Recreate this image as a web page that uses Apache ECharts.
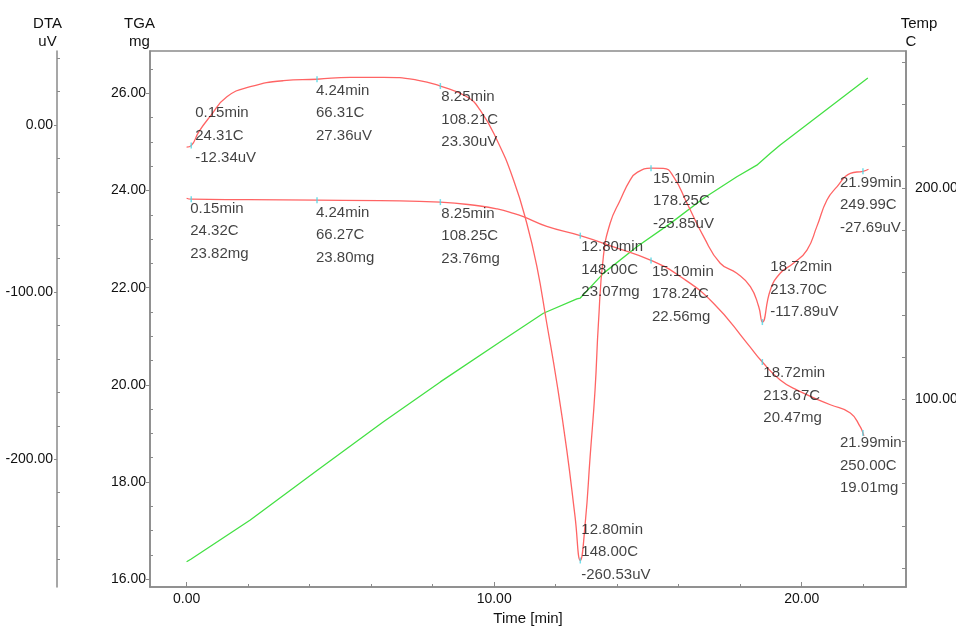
<!DOCTYPE html>
<html>
<head>
<meta charset="utf-8">
<script src="https://cdn.jsdelivr.net/npm/echarts@6/dist/echarts.min.js"></script>
<style>
  html, body { margin: 0; padding: 0; background: #ffffff; }
  #chart { width: 956px; height: 626px; }
</style>
</head>
<body>
<div id="chart"></div>
<script>
// ---------- data ----------
// DTA curve (time min, uV)
const dtaTime = [0.00, 0.15, 0.40, 0.76, 1.31, 2.07, 3.15, 4.24, 5.32, 6.40, 7.49, 8.25, 9.11, 9.54, 10.09, 10.63, 11.06, 11.39, 11.71, 12.04, 12.36, 12.63, 12.80, 12.96, 13.12, 13.28, 13.39, 13.55, 13.77, 14.10, 14.42, 14.64, 15.10, 15.50, 15.83, 16.27, 16.81, 17.35, 17.89, 18.33, 18.60, 18.72, 18.98, 19.30, 19.73, 20.17, 20.49, 20.82, 21.15, 21.58, 21.99, 22.17];
const dtaValue = [-13.2, -12.34, -4.0, 5.0, 16.9, 22.9, 26.5, 27.36, 28.5, 28.5, 26.9, 23.30, 16.9, 9.0, -9.0, -32.9, -58.8, -84.8, -118.6, -154.5, -194.4, -234.3, -260.53, -238.3, -198.4, -158.5, -118.6, -78.8, -58.8, -44.9, -33.0, -28.5, -25.85, -25.9, -30.9, -46.8, -66.8, -82.7, -88.7, -96.7, -108.6, -117.89, -98.7, -88.7, -82.7, -74.8, -60.8, -44.9, -36.9, -28.9, -27.69, -26.5];

// TGA curve (time min, mg)
const tgaTime = [0.00, 0.15, 2.00, 4.24, 6.30, 8.25, 9.54, 10.10, 10.63, 10.95, 11.71, 12.80, 13.88, 15.10, 16.05, 17.13, 18.22, 18.72, 19.30, 19.85, 20.93, 21.58, 21.90, 21.99, 22.02];
const tgaValue = [23.84, 23.82, 23.81, 23.80, 23.79, 23.76, 23.68, 23.62, 23.53, 23.46, 23.26, 23.07, 22.84, 22.56, 22.23, 21.68, 20.86, 20.47, 20.10, 19.89, 19.59, 19.42, 19.14, 19.01, 18.95];

// Temperature curve (time min, C)
const tempTime = [0.00, 0.15, 2.07, 4.24, 6.40, 8.25, 10.20, 11.60, 12.69, 12.80, 13.55, 14.64, 15.73, 16.81, 17.89, 18.54, 18.98, 19.30, 22.15];
const tempValue = [23.0, 24.32, 42.8, 66.27, 89.4, 108.25, 127.3, 140.8, 147.6, 148.0, 159.7, 172.3, 183.4, 195.3, 205.5, 211.0, 216.6, 220.5, 252.3];

// Annotated points
const markTime = [0.15, 4.24, 8.25, 12.80, 15.10, 18.72, 21.99];
const dtaMarkTemp = [24.31, 66.31, 108.21, 148.00, 178.25, 213.70, 249.99];
const dtaMarkValue = [-12.34, 27.36, 23.30, -260.53, -25.85, -117.89, -27.69];
const tgaMarkTemp = [24.32, 66.27, 108.25, 148.00, 178.24, 213.67, 250.00];
const tgaMarkValue = [23.82, 23.80, 23.76, 23.07, 22.56, 20.47, 19.01];

// Tick values
const timeLabels = [0, 10, 20];
const timeMinor = [2, 4, 6, 8, 12, 14, 16, 18, 22];
const tgaLabels = [16, 18, 20, 22, 24, 26];
const tgaMinor = [16.5, 17, 17.5, 18.5, 19, 19.5, 20.5, 21, 21.5, 22.5, 23, 23.5, 24.5, 25, 25.5, 26.5];
const dtaLabels = [-200, -100, 0];
const dtaMinor = [-260, -240, -220, -180, -160, -140, -120, -80, -60, -40, -20, 20, 40];
const tempLabels = [100, 200];
const tempTicks = [20, 40, 60, 80, 100, 120, 140, 160, 180, 200, 220, 240, 260];

// ---------- layout / style config (not data) ----------
const dtaLabelOffsets = [[4, -44], [-1, 0], [1, 0], [1, -42], [2, -1], [8, -66], [-23, 0]];
const tgaLabelOffsets = [[-1, -2], [-1, 1], [1, 0], [1, 0], [1, 0], [1, 0], [-23, -1]];

const FONT = '"Liberation Sans", Arial, sans-serif';
const AXIS_COLOR = '#8a8a8a';
const TEXT_COLOR = '#111111';
const RED = '#ff6464';
const GREEN = '#44e044';
const CYAN = '#4fd6e4';

const zip = (a, b) => a.map((v, i) => [v, b[i]]);
const fmt2 = v => Number(v).toFixed(2);

function markData(values, temps, offsets) {
  return markTime.map((t, i) => ({
    value: [t, values[i], temps[i]],
    label: { offset: offsets[i] }
  }));
}

function markSeries(name, yIdx, values, temps, offsets, unit) {
  return {
    name: name,
    type: 'scatter',
    xAxisIndex: 0,
    yAxisIndex: yIdx,
    symbol: 'rect',
    symbolSize: [1.5, 6],
    itemStyle: { color: CYAN },
    z: 5,
    silent: true,
    data: markData(values, temps, offsets),
    label: {
      show: true,
      position: 'inside',
      align: 'left',
      verticalAlign: 'top',
      fontSize: 15,
      lineHeight: 22.5,
      fontFamily: FONT,
      color: TEXT_COLOR,
      textBorderWidth: 0,
      formatter: p => fmt2(p.value[0]) + 'min\n' + fmt2(p.value[2]) + 'C\n' + fmt2(p.value[1]) + unit
    }
  };
}

const X_MIN = -1.19, X_MAX = 23.39;
const TGA_MIN = 15.84, TGA_MAX = 26.87;
const DTA_MIN = -276.4, DTA_MAX = 44.27;
const TEMP_MIN = 11.04, TEMP_MAX = 265.1;

const labelStyle = { fontSize: 14, fontFamily: FONT, color: TEXT_COLOR, formatter: v => fmt2(v) };
const lineStyle = { color: AXIS_COLOR, width: 1.5 };
const tickStyle = { color: AXIS_COLOR, width: 1 };
const nameStyle = { fontSize: 15, fontFamily: FONT, color: TEXT_COLOR, lineHeight: 18 };

const option = {
  animation: false,
  backgroundColor: '#ffffff',
  grid: {
    left: 150, right: 50, top: 51, bottom: 39,
    show: true, borderColor: AXIS_COLOR, borderWidth: 1.5, backgroundColor: 'transparent',
    containLabel: false,
    outerBoundsMode: 'none'
  },
  xAxis: [
    {
      type: 'value', position: 'bottom', min: X_MIN, max: X_MAX,
      axisLine: { show: true, onZero: false, lineStyle: lineStyle },
      axisTick: { show: true, inside: true, length: 5, customValues: timeLabels, lineStyle: tickStyle },
      axisLabel: Object.assign({ customValues: timeLabels, margin: 5 }, labelStyle),
      splitLine: { show: false },
      name: 'Time [min]', nameLocation: 'middle', nameGap: 22,
      nameTextStyle: { fontSize: 15, fontFamily: FONT, color: TEXT_COLOR }
    },
    {
      type: 'value', position: 'bottom', min: X_MIN, max: X_MAX,
      axisLine: { show: false, onZero: false },
      axisTick: { show: true, inside: true, length: 3, customValues: timeMinor, lineStyle: tickStyle },
      axisLabel: { show: false },
      splitLine: { show: false }
    }
  ],
  yAxis: [
    { // TGA
      type: 'value', position: 'left', offset: 0, min: TGA_MIN, max: TGA_MAX,
      axisLine: { show: true, onZero: false, lineStyle: lineStyle },
      axisTick: { show: true, inside: false, length: 4, customValues: tgaLabels, lineStyle: tickStyle },
      axisLabel: Object.assign({ customValues: tgaLabels, margin: 4 }, labelStyle),
      splitLine: { show: false },
      name: 'TGA\nmg', nameLocation: 'end', nameGap: 0,
      nameTextStyle: Object.assign({ align: 'center', padding: [0, 21, 0, 0] }, nameStyle)
    },
    { // TGA minor ticks
      type: 'value', position: 'left', offset: 0, min: TGA_MIN, max: TGA_MAX,
      axisLine: { show: false, onZero: false },
      axisTick: { show: true, inside: true, length: 3, customValues: tgaMinor, lineStyle: tickStyle },
      axisLabel: { show: false },
      splitLine: { show: false }
    },
    { // DTA
      type: 'value', position: 'left', offset: 93, min: DTA_MIN, max: DTA_MAX,
      axisLine: { show: true, onZero: false, lineStyle: lineStyle },
      axisTick: { show: true, inside: false, length: 3, customValues: dtaLabels, lineStyle: tickStyle },
      axisLabel: Object.assign({ customValues: dtaLabels, margin: 4 }, labelStyle),
      splitLine: { show: false },
      name: 'DTA\nuV', nameLocation: 'end', nameGap: 0,
      nameTextStyle: Object.assign({ align: 'center', padding: [0, 19, 0, 0] }, nameStyle)
    },
    { // DTA minor ticks
      type: 'value', position: 'left', offset: 93, min: DTA_MIN, max: DTA_MAX,
      axisLine: { show: false, onZero: false },
      axisTick: { show: true, inside: true, length: 3, customValues: dtaMinor, lineStyle: tickStyle },
      axisLabel: { show: false },
      splitLine: { show: false }
    },
    { // Temp
      type: 'value', position: 'right', offset: 0, min: TEMP_MIN, max: TEMP_MAX,
      axisLine: { show: true, onZero: false, lineStyle: lineStyle },
      axisTick: { show: true, inside: true, length: 4, customValues: tempTicks, lineStyle: tickStyle },
      axisLabel: Object.assign({ customValues: tempLabels, margin: 9 }, labelStyle),
      splitLine: { show: false },
      name: '{t|Temp}\n{c|C}', nameLocation: 'end', nameGap: 0,
      nameTextStyle: Object.assign({
        align: 'center', padding: [0, 0, 0, 26],
        rich: {
          t: { fontSize: 15, fontFamily: FONT, color: TEXT_COLOR, lineHeight: 18 },
          c: { fontSize: 15, fontFamily: FONT, color: TEXT_COLOR, lineHeight: 18, padding: [0, 16, 0, 0] }
        }
      }, nameStyle)
    }
  ],
  series: [
    {
      name: 'Temp', type: 'line', xAxisIndex: 0, yAxisIndex: 4,
      data: zip(tempTime, tempValue), showSymbol: false, smooth: false,
      lineStyle: { color: GREEN, width: 1.3 }, itemStyle: { color: GREEN }, z: 2, silent: true
    },
    {
      name: 'TGA', type: 'line', xAxisIndex: 0, yAxisIndex: 0,
      data: zip(tgaTime, tgaValue), showSymbol: false, smooth: 0.5,
      lineStyle: { color: RED, width: 1.3 }, itemStyle: { color: RED }, z: 3, silent: true
    },
    {
      name: 'DTA', type: 'line', xAxisIndex: 0, yAxisIndex: 2,
      data: zip(dtaTime, dtaValue), showSymbol: false, smooth: 0.5,
      lineStyle: { color: RED, width: 1.3 }, itemStyle: { color: RED }, z: 3, silent: true
    },
    markSeries('DTA points', 2, dtaMarkValue, dtaMarkTemp, dtaLabelOffsets, 'uV'),
    markSeries('TGA points', 0, tgaMarkValue, tgaMarkTemp, tgaLabelOffsets, 'mg')
  ]
};

const chart = echarts.init(document.getElementById('chart'), null, { renderer: 'canvas' });
chart.setOption(option);
</script>
</body>
</html>
